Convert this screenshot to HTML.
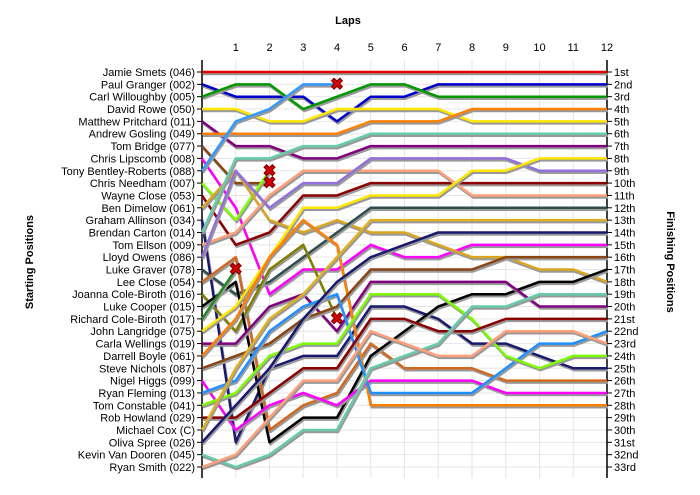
<!DOCTYPE html>
<html><head><meta charset="utf-8"><style>
html,body{margin:0;padding:0;background:#fff;}
svg{display:block;font-family:"Liberation Sans",sans-serif;}
</style></head><body>
<svg id="chart" width="700" height="495" viewBox="0 0 700 495" xmlns="http://www.w3.org/2000/svg">
<text x="348" y="24" font-size="11" font-weight="bold" text-anchor="middle">Laps</text>
<text transform="translate(33,262) rotate(-90)" font-size="11" font-weight="bold" text-anchor="middle">Starting Positions</text>
<text transform="translate(667,262) rotate(90)" font-size="11" font-weight="bold" text-anchor="middle">Finishing Positions</text>
<g id="grid"></g><g id="axes"></g><g id="lines"></g><g id="marks"></g>
</svg>
<script>
const lapTicks = [1,2,3,4,5,6,7,8,9,10,11,12];
const drivers = ["Jamie Smets (046)","Paul Granger (002)","Carl Willoughby (005)","David Rowe (050)","Matthew Pritchard (011)","Andrew Gosling (049)","Tom Bridge (077)","Chris Lipscomb (008)","Tony Bentley-Roberts (088)","Chris Needham (007)","Wayne Close (053)","Ben Dimelow (061)","Graham Allinson (034)","Brendan Carton (014)","Tom Ellson (009)","Lloyd Owens (086)","Luke Graver (078)","Lee Close (054)","Joanna Cole-Biroth (016)","Luke Cooper (015)","Richard Cole-Biroth (017)","John Langridge (075)","Carla Wellings (019)","Darrell Boyle (061)","Steve Nichols (087)","Nigel Higgs (099)","Ryan Fleming (013)","Tom Constable (041)","Rob Howland (029)","Michael Cox (C)","Oliva Spree (026)","Kevin Van Dooren (045)","Ryan Smith (022)"];
const finishLabels = ["1st","2nd","3rd","4th","5th","6th","7th","8th","9th","10th","11th","12th","13th","14th","15th","16th","17th","18th","19th","20th","21st","22nd","23rd","24th","25th","26th","27th","28th","29th","30th","31st","32nd","33rd"];
const colors = ["#e60000","#0000cc","#009900","#ffe600","#800080","#ff8000","#8b4513","#ff00ff","#3399ff","#80ff00","#8b0000","#daa520","#191970","#66cdaa","#ffa07a","#9370db","#2f4f4f","#d2691e","#808000","#000000","#228b22","#ffe600","#800080","#ff8000","#8b4513","#ff00ff","#1e90ff","#7cfc00","#8b0000","#e0b020","#191970","#66cdaa","#ffa07a"];
const racePositions = [
[1,1,1,1,1,1,1,1,1,1,1,1,1],
[2,3,3,3,5,3,3,2,2,2,2,2,2],
[3,2,2,4,3,2,2,3,3,3,3,3,3],
[4,4,5,5,4,4,4,4,5,5,5,5,5],
[5,7,7,8,8,7,7,7,7,7,7,7,7],
[6,6,6,6,6,5,5,5,4,4,4,4,4],
[7,10,10],
[8,12,19,17,17,15,16,16,15,15,15,15,15],
[9,5,4,2,2],
[10,13,9],
[11,15,14,11,11,10,10,10,10,10,10,10,10],
[12,9,13,14,13,14,14,15,16,16,17,17,18],
[13,31,25,24,24,20,20,21,23,23,24,25,25],
[14,8,8,7,7,6,6,6,6,6,6,6,6],
[15,14,11,9,9,9,9,9,11,11,11,11,11],
[16,9,12,10,10,8,8,8,8,8,9,9,9],
[17,19,18,16,14,12,12,12,12,12,12,12,12],
[18,16,30,28,27,23,25,25,25,26,26,26,26],
[19,22,17,15,21],
[20,18,31,29,29,24,22,20,19,19,18,18,17],
[21,17],
[22,20,16,12,12,11,11,11,9,9,8,8,8],
[23,23,20,19,22,18,18,18,18,18,20,20,20],
[24,21,16,13,15,28,28,28,28,28,28,28,28],
[25,24,23,21,20,17,17,17,17,16,16,16,16],
[26,30,28,27,28,26,26,26,26,27,27,27,27],
[27,26,22,20,19,27,27,27,27,25,23,23,22],
[28,27,24,23,23,19,19,19,21,24,25,24,24],
[29,29,27,25,25,21,21,22,22,21,21,21,21],
[30,25,21,19,16,13,13,13,13,13,13,13,13],
[31,28,25,21,18,16,15,14,14,14,14,14,14],
[32,33,32,30,30,25,24,23,20,20,19,19,19],
[33,32,29,26,26,22,23,24,24,22,22,22,23]
];
const NS="http://www.w3.org/2000/svg";
const X0=202, X1=607, Y0=72, Y1=467;
const nLaps=lapTicks.length, nRows=finishLabels.length;
function xs(l){return X0+(X1-X0)*l/nLaps;}
function ys(p){return Y0+(Y1-Y0)*(p-1)/(nRows-1);}
function mk(tag,attrs,parent){const e=document.createElementNS(NS,tag);for(const k in attrs)e.setAttribute(k,attrs[k]);parent.appendChild(e);return e;}
const grid=document.getElementById('grid'),axes=document.getElementById('axes'),lines=document.getElementById('lines'),marks=document.getElementById('marks');
for(let i=0;i<nRows;i++){
  const g=mk('line',{x1:X0,x2:X1,y1:ys(i+1),y2:ys(i+1),stroke:'#e6e6e6','stroke-width':1},grid);
  
  
}
for(let l=1;l<=nLaps;l++){
  const g=mk('line',{x1:xs(l),x2:xs(l),y1:60,y2:478,stroke:'#e6e6e6','stroke-width':1},grid);
  
  
  const t=mk('text',{x:xs(l),y:51,'font-size':11,'text-anchor':'middle'},axes);
  t.textContent=lapTicks[l-1];
  
  
}
let a=mk('line',{x1:X0,x2:X0,y1:60,y2:478,stroke:'#000','stroke-width':1.5},axes);


a=mk('line',{x1:X1,x2:X1,y1:60,y2:478,stroke:'#000','stroke-width':1.5},axes);


for(let i=0;i<nRows;i++){
  const y=ys(i+1);
  let tk=mk('line',{x1:X0-5,x2:X0,y1:y,y2:y,stroke:'#000'},axes);
  
  
  tk=mk('line',{x1:X1,x2:X1+5,y1:y,y2:y,stroke:'#000'},axes);
  
  
  const t=mk('text',{x:195,y:y+4,'font-size':11,'text-anchor':'end'},axes);
  t.textContent=drivers[i];
  
  
  const f=mk('text',{x:614,y:y+4,'font-size':11},axes);
  f.textContent=finishLabels[i];
  
  
}
racePositions.forEach((ps,i)=>{
  const pts=ps.map((p,l)=>xs(l)+','+ys(p)).join(' ');
  const sh=mk('polyline',{points:pts,fill:'none',stroke:'#999','stroke-width':2.5,transform:'translate(1,2)','stroke-linejoin':'round'},lines);
  
  
  const pl=mk('polyline',{points:pts,fill:'none',stroke:colors[i],'stroke-width':2.5,'stroke-linejoin':'round'},lines);
  
  
  if(ps.length<=nLaps){
    const l=ps.length-1,x=xs(l),y=ys(ps[l]);
    const m=mk('text',{x:x,y:y+5,'font-size':16,'font-weight':'bold','text-anchor':'middle',fill:'#e00000',stroke:'#800000','stroke-width':0.6},marks);
    m.textContent='✖';
    
    
  }
});
</script>
</body></html>
